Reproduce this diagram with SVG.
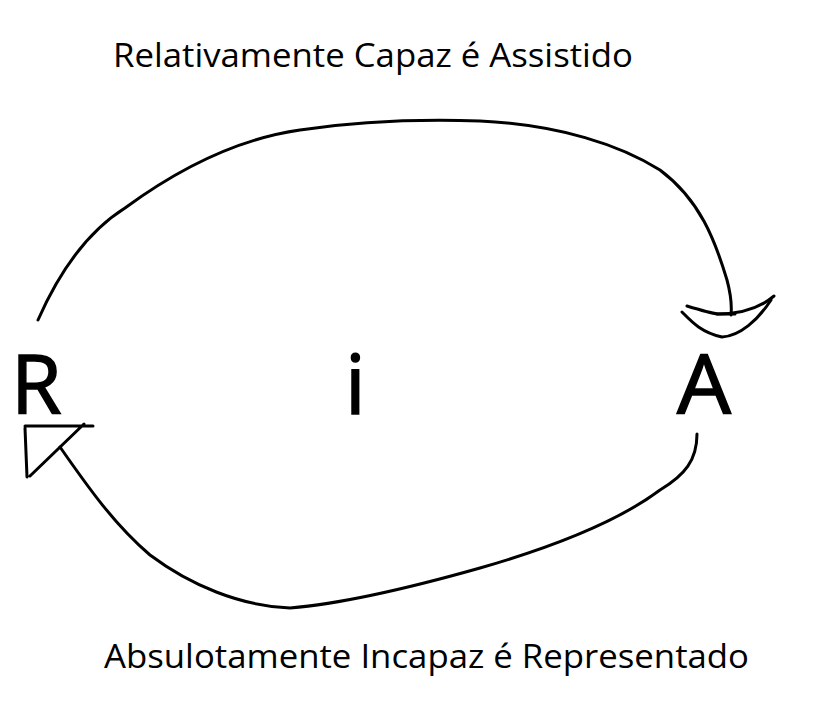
<svg xmlns="http://www.w3.org/2000/svg" width="828" height="701" viewBox="0 0 828 701">
<style>
.ink{fill:none;stroke:#000;stroke-width:3;stroke-linecap:round;stroke-linejoin:round}
.lbl{font-family:"Open Sans","Noto Sans","Liberation Sans",sans-serif;fill:#000}
.big{stroke:#000;stroke-width:1.5}
</style>
<rect width="828" height="701" fill="#fff"/>
<g id="label-top"><text class="lbl" x="113" y="67" font-size="32" textLength="520" lengthAdjust="spacingAndGlyphs">Relativamente Capaz é Assistido</text></g>
<g id="label-bottom"><text class="lbl" x="104" y="668" font-size="32" textLength="645" lengthAdjust="spacingAndGlyphs">Absulotamente Incapaz é Representado</text></g>
<g id="node-R"><text class="lbl big" x="11" y="414" font-size="82">R</text></g>
<g id="node-i"><text class="lbl big" x="345" y="414" font-size="82">i</text></g>
<g id="node-A"><text class="lbl big" x="677" y="414" font-size="82" textLength="54" lengthAdjust="spacingAndGlyphs">A</text></g>
<g id="connectors">
<path class="ink" d="M38,320 C60,270 90,230 125,208 C170,175 230,140 300,130 C360,121 420,119 480,121 C560,125 620,145 660,170 C700,200 715,240 727,280 C731,295 732,305 731,315"/>
<path class="ink" d="M687,306 C700,310 710,313 718,314 C740,314 760,308 774,296"/>
<path class="ink" d="M717,314 L735,314" stroke-width="5"/>
<path class="ink" d="M682,312 C690,320 700,332 722,337 C740,336 758,320 771,300"/>
<path class="ink" d="M697,434 C697,460 685,475 660,490 C620,520 560,545 480,568 C420,585 350,603 290,608 C240,606 190,585 150,555 C115,525 90,490 60,447"/>
<path class="ink" d="M25,426 L93,426 M25,428 L27,477 M30,476 L84,424"/>
</g>
</svg>
